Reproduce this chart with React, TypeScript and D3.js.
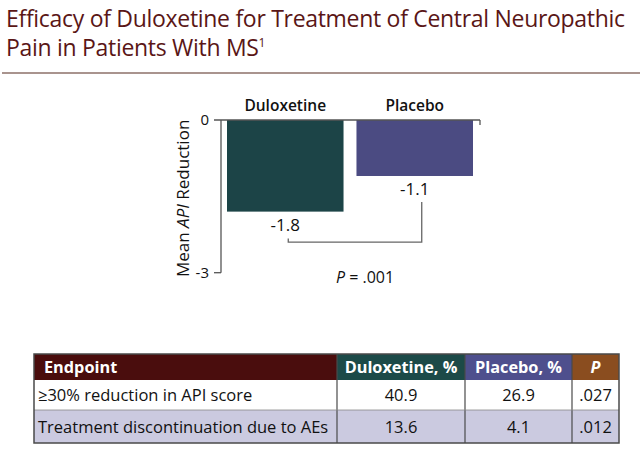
import * as d3 from 'd3';
import React, { useEffect, useRef } from 'react';

const categories = ['Duloxetine', 'Placebo'];
const meanReduction = [-1.8, -1.1];
const yTicks = [0, -3];
const pLabel = '.001';

const endpoints = ['≥30% reduction in API score', 'Treatment discontinuation due to AEs'];
const duloxetinePct = ['40.9', '13.6'];
const placeboPct = ['26.9', '4.1'];
const pValues = ['.027', '.012'];
const tableHeaders = ['Endpoint', 'Duloxetine, %', 'Placebo, %', 'P'];

const W = 640;
const H = 463;
const FONT = '"Open Sans", "Noto Sans", sans-serif';

const barColors = ['#1c4447', '#4b4b82'];
const headerColors = ['#4a0d0d', '#1c4a48', '#4e4f8d', '#8a4d1f'];

export default function App() {
  const svgRef = useRef<SVGSVGElement>(null);

  useEffect(() => {
    const svg = d3.select(svgRef.current).html('');

    svg.append('rect').attr('width', W).attr('height', H).attr('fill', '#fff');

    // title
    const title = svg.append('text')
      .attr('font-family', FONT)
      .attr('font-size', 23)
      .attr('letter-spacing', -0.3)
      .attr('fill', '#5a1616');
    title.append('tspan').attr('x', 6).attr('y', 27)
      .text('Efficacy of Duloxetine for Treatment of Central Neuropathic');
    const l2 = title.append('tspan').attr('x', 6).attr('y', 56).text('Pain in Patients With MS');
    l2.append('tspan').attr('font-size', 12).attr('dy', -9).text('1');

    svg.append('line')
      .attr('x1', 2).attr('x2', W).attr('y1', 73).attr('y2', 73)
      .attr('stroke', '#8c7068').attr('stroke-width', 1.5);

    // bar chart
    const axisX = 221;
    const x = d3.scaleBand().domain(categories).range([227, 473]).paddingInner(0.1);
    const y = d3.scaleLinear().domain([-3, 0]).range([272.7, 120]);

    const g = svg.append('g');
    g.selectAll('rect.bar')
      .data(categories)
      .enter().append('rect')
      .attr('class', 'bar')
      .attr('x', d => x(d)!)
      .attr('y', y(0))
      .attr('width', x.bandwidth())
      .attr('height', (d, i) => y(meanReduction[i]) - y(0))
      .attr('fill', (d, i) => barColors[i]);

    // axes
    const axisColor = '#555';
    g.append('line').attr('x1', axisX).attr('x2', axisX).attr('y1', y(0)).attr('y2', y(-3))
      .attr('stroke', axisColor).attr('stroke-width', 1.3);
    g.append('line').attr('x1', axisX - 7).attr('x2', 480).attr('y1', y(0)).attr('y2', y(0))
      .attr('stroke', axisColor).attr('stroke-width', 1.3);
    g.append('line').attr('x1', 480).attr('x2', 480).attr('y1', y(0)).attr('y2', y(0) + 5)
      .attr('stroke', axisColor).attr('stroke-width', 1.3);
    g.append('line').attr('x1', axisX - 7).attr('x2', axisX).attr('y1', y(-3)).attr('y2', y(-3))
      .attr('stroke', axisColor).attr('stroke-width', 1.3);

    g.selectAll('text.tick')
      .data(yTicks)
      .enter().append('text')
      .attr('class', 'tick')
      .attr('x', axisX - 12)
      .attr('y', d => y(d) + 5)
      .attr('text-anchor', 'end')
      .attr('font-family', FONT).attr('font-size', 15).attr('fill', '#111')
      .text(d => d3.format('d')(d).replace('−', '-'));

    g.append('text')
      .attr('transform', `translate(189,${(y(0) + y(-3)) / 2 + 2}) rotate(-90)`)
      .attr('text-anchor', 'middle')
      .attr('font-family', FONT).attr('font-size', 17).attr('fill', '#111')
      .call(t => {
        t.append('tspan').text('Mean ');
        t.append('tspan').attr('font-style', 'italic').text('API');
        t.append('tspan').text(' Reduction');
      });

    g.selectAll('text.cat')
      .data(categories)
      .enter().append('text')
      .attr('class', 'cat')
      .attr('x', d => x(d)! + x.bandwidth() / 2)
      .attr('y', 111)
      .attr('text-anchor', 'middle')
      .attr('font-family', FONT).attr('font-size', 15.5).attr('font-weight', 600).attr('fill', '#111')
      .text(d => d);

    g.selectAll('text.val')
      .data(categories)
      .enter().append('text')
      .attr('class', 'val')
      .attr('x', d => x(d)! + x.bandwidth() / 2)
      .attr('y', (d, i) => y(meanReduction[i]) + 19)
      .attr('text-anchor', 'middle')
      .attr('font-family', FONT).attr('font-size', 17).attr('fill', '#111')
      .text((d, i) => d3.format('.1f')(meanReduction[i]).replace('−', '-'));

    // significance bracket
    const bx1 = x(categories[0])! + x.bandwidth() / 2 + 3;
    const bx2 = x(categories[1])! + x.bandwidth() / 2 + 7;
    const by = y(-2.4);
    g.append('path')
      .attr('d', `M${bx1},${y(meanReduction[0]) + 27}V${by}H${bx2}V${y(meanReduction[1]) + 26}`)
      .attr('fill', 'none').attr('stroke', '#666').attr('stroke-width', 1.3);

    g.append('text')
      .attr('x', (bx1 + bx2) / 2 + 10)
      .attr('y', 283)
      .attr('text-anchor', 'middle')
      .attr('font-family', FONT).attr('font-size', 16).attr('fill', '#111')
      .call(t => {
        t.append('tspan').attr('font-style', 'italic').text('P');
        t.append('tspan').text(` = ${pLabel}`);
      });

    // table
    const colEdges = [34, 337, 465, 572, 619];
    const rowEdges = [354, 380, 410, 443];
    const tg = svg.append('g');

    tableHeaders.forEach((h, i) => {
      tg.append('rect')
        .attr('x', colEdges[i]).attr('y', rowEdges[0])
        .attr('width', colEdges[i + 1] - colEdges[i]).attr('height', rowEdges[1] - rowEdges[0])
        .attr('fill', headerColors[i]);
      tg.append('text')
        .attr('x', i === 0 ? colEdges[0] + 10 : (colEdges[i] + colEdges[i + 1]) / 2)
        .attr('y', rowEdges[0] + 19)
        .attr('text-anchor', i === 0 ? 'start' : 'middle')
        .attr('font-family', FONT).attr('font-size', 16.3).attr('font-weight', 700)
        .attr('font-style', i === 3 ? 'italic' : 'normal')
        .attr('fill', '#fff')
        .text(h);
    });

    const rows = endpoints.map((e, i) => [e, duloxetinePct[i], placeboPct[i], pValues[i]]);
    rows.forEach((row, r) => {
      const top = rowEdges[r + 1];
      const bottom = rowEdges[r + 2];
      tg.append('rect')
        .attr('x', colEdges[0]).attr('y', top)
        .attr('width', colEdges[4] - colEdges[0]).attr('height', bottom - top)
        .attr('fill', r === 1 ? '#cbcae0' : '#fff');
      row.forEach((cell, c) => {
        tg.append('text')
          .attr('x', c === 0 ? colEdges[0] + 4 : (colEdges[c] + colEdges[c + 1]) / 2)
          .attr('y', (top + bottom) / 2 + 6)
          .attr('text-anchor', c === 0 ? 'start' : 'middle')
          .attr('font-family', FONT).attr('font-size', 16.5)
          .attr('font-weight', c === 0 ? 400 : 500)
          .attr('fill', '#111')
          .text(cell);
      });
    });

    // grid lines
    const lineColor = '#4a4a4a';
    colEdges.slice(1, 4).forEach(cx => {
      tg.append('line').attr('x1', cx).attr('x2', cx).attr('y1', rowEdges[0]).attr('y2', rowEdges[3])
        .attr('stroke', lineColor).attr('stroke-width', 1.2);
    });
    tg.append('line').attr('x1', colEdges[0]).attr('x2', colEdges[4]).attr('y1', rowEdges[2]).attr('y2', rowEdges[2])
      .attr('stroke', '#888').attr('stroke-width', 0.8);
    tg.append('rect')
      .attr('x', colEdges[0]).attr('y', rowEdges[0])
      .attr('width', colEdges[4] - colEdges[0]).attr('height', rowEdges[3] - rowEdges[0])
      .attr('fill', 'none').attr('stroke', lineColor).attr('stroke-width', 1.5);
  }, []);

  return (
    <svg
      ref={svgRef}
      width={W}
      height={H}
      style={{ position: 'absolute', left: 0, top: 0, display: 'block' }}
    />
  );
}
